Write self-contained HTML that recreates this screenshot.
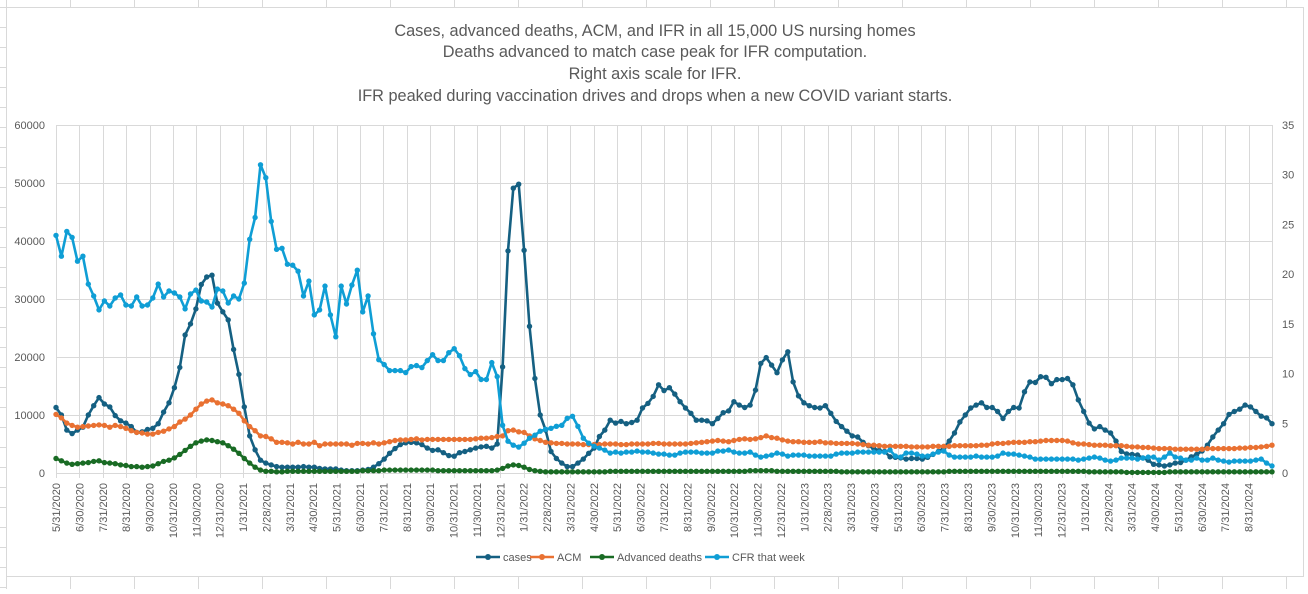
<!DOCTYPE html>
<html><head><meta charset="utf-8">
<style>
html,body{margin:0;padding:0;background:#fff;}
body{width:1308px;height:589px;overflow:hidden;position:relative;font-family:"Liberation Sans",Arial,sans-serif;}
svg text{font-family:"Liberation Sans",Arial,sans-serif;}
</style></head>
<body>
<svg id="chart" width="1308" height="589" viewBox="0 0 1308 589" xmlns="http://www.w3.org/2000/svg">
<g id="sheet" stroke="#d9d9d9" stroke-width="1"></g>
<rect x="6.5" y="7.5" width="1297" height="569" fill="#fff" stroke="#d9d9d9"/>
<g fill="#595959" font-size="16.3" text-anchor="middle">
<text x="655" y="36">Cases, advanced deaths, ACM, and IFR in all 15,000 US nursing homes</text>
<text x="655" y="57">Deaths advanced to match case peak for IFR computation.</text>
<text x="655" y="79">Right axis scale for IFR.</text>
<text x="655" y="101">IFR peaked during vaccination drives and drops when a new COVID variant starts.</text>
</g>
<g id="grid"></g>
<g id="axes"></g>
<g id="series"></g>
<g id="legend"></g>
</svg>
<script>
const cases=[11.3,10.0,7.4,6.8,7.4,7.9,10.0,11.6,13.0,11.9,11.4,9.9,9.0,8.6,8.0,7.0,7.1,7.5,7.7,8.5,10.5,12.1,14.7,18.2,23.8,25.7,28.3,32.5,33.8,34.1,29.3,27.8,26.4,21.3,17.0,11.4,6.4,4.0,2.2,1.7,1.4,1.1,1.0,1.0,1.0,1.0,1.1,1.0,1.0,0.8,0.7,0.7,0.7,0.5,0.4,0.4,0.4,0.5,0.6,1.0,1.6,2.4,3.4,4.2,4.9,5.2,5.3,5.2,4.9,4.3,3.9,4.0,3.5,3.0,2.9,3.5,
3.7,4.0,4.3,4.5,4.6,4.3,5.0,18.3,38.3,49.1,49.8,38.4,25.3,16.3,10.0,7.4,3.7,2.5,1.7,1.1,1.1,1.7,2.4,3.4,4.3,6.3,7.4,9.1,8.6,8.9,8.5,8.7,9.1,11.2,12.0,13.2,15.2,14.2,14.7,13.6,12.3,11.2,10.3,9.1,9.1,9.0,8.5,9.4,10.4,10.7,12.3,11.7,11.3,11.7,14.3,18.9,19.9,18.6,17.3,19.5,20.9,15.7,13.3,12.1,11.6,11.3,11.2,11.6,10.3,8.9,8.0,7.2,6.4,
6.2,5.3,4.7,4.2,3.9,3.7,2.8,2.7,2.6,2.4,2.5,2.5,2.4,2.7,3.2,3.7,4.3,5.5,6.9,8.8,10.0,11.2,11.7,12.1,11.3,11.3,10.6,9.4,10.6,11.3,11.2,14.0,15.7,15.6,16.6,16.5,15.4,16.1,16.1,16.3,15.2,12.6,10.6,8.6,7.6,8.0,7.4,6.9,5.5,3.7,3.3,3.2,3.1,2.6,2.2,1.5,1.4,1.2,1.4,1.7,1.8,2.2,2.8,3.2,3.8,4.8,6.2,7.4,8.5,10.1,10.6,11.0,11.7,11.4,10.6,9.8,9.5,8.5];
const acm=[10.1,9.5,8.6,8.2,7.9,8.0,8.1,8.2,8.3,8.2,7.9,8.2,8.0,7.7,7.3,7.0,6.9,6.7,6.7,7.0,7.2,7.6,8.0,8.8,9.3,10.0,11.0,11.9,12.4,12.6,12.1,11.9,11.6,11.0,10.3,9.0,8.0,7.3,6.4,6.3,5.9,5.3,5.3,5.2,5.0,5.3,5.0,5.0,5.3,4.7,5.0,5.0,5.0,5.0,5.0,4.8,5.1,5.1,5.0,5.2,5.0,5.2,5.4,5.6,5.7,5.7,5.8,5.9,5.7,5.8,5.8,5.8,5.8,5.8,5.8,5.8,
5.8,5.8,5.9,6.0,6.0,6.1,6.3,6.4,7.3,7.4,7.1,7.0,6.4,5.9,5.6,5.3,5.2,5.1,5.1,5.0,5.0,5.0,4.9,4.9,4.9,4.9,5.0,5.0,5.0,4.9,4.9,5.0,5.0,5.0,5.0,5.1,5.1,5.0,5.0,5.0,5.0,5.0,5.1,5.2,5.3,5.4,5.5,5.6,5.5,5.4,5.6,5.8,5.9,5.8,5.9,6.1,6.4,6.1,6.0,5.7,5.5,5.4,5.4,5.3,5.3,5.3,5.4,5.2,5.2,5.1,5.1,5.1,5.1,
5.0,4.9,4.8,4.8,4.7,4.6,4.6,4.6,4.6,4.6,4.5,4.5,4.5,4.5,4.6,4.6,4.6,4.6,4.7,4.7,4.7,4.7,4.7,4.8,4.8,5.0,5.1,5.1,5.2,5.3,5.3,5.3,5.4,5.4,5.5,5.6,5.6,5.6,5.6,5.5,5.2,5.0,5.0,4.9,4.8,4.8,4.8,4.7,4.7,4.7,4.6,4.5,4.5,4.4,4.4,4.3,4.2,4.2,4.2,4.1,4.1,4.1,4.1,4.1,4.1,4.2,4.2,4.2,4.2,4.2,4.2,4.3,4.3,4.4,4.4,4.5,4.6,4.8];
const advDeaths=[2.5,2.1,1.7,1.5,1.6,1.7,1.8,2.0,2.1,1.8,1.7,1.6,1.4,1.3,1.1,1.1,1.0,1.1,1.2,1.6,2.0,2.2,2.6,3.2,3.9,4.6,5.2,5.5,5.7,5.6,5.4,5.2,4.7,4.1,3.4,2.5,1.7,1.0,0.5,0.3,0.3,0.2,0.2,0.3,0.3,0.3,0.3,0.3,0.3,0.3,0.3,0.3,0.3,0.3,0.3,0.3,0.3,0.4,0.4,0.4,0.4,0.5,0.5,0.5,0.5,0.5,0.5,0.5,0.5,0.5,0.5,0.4,0.4,0.4,0.4,0.4,
0.4,0.4,0.4,0.4,0.4,0.4,0.5,0.8,1.2,1.4,1.3,1.0,0.6,0.4,0.3,0.2,0.2,0.2,0.2,0.2,0.2,0.2,0.2,0.2,0.2,0.2,0.2,0.3,0.3,0.3,0.3,0.3,0.3,0.3,0.3,0.3,0.3,0.3,0.3,0.3,0.3,0.3,0.3,0.3,0.3,0.3,0.3,0.3,0.3,0.3,0.3,0.3,0.3,0.4,0.4,0.4,0.4,0.4,0.3,0.3,0.3,0.3,0.3,0.3,0.3,0.3,0.3,0.3,0.3,0.3,0.2,0.2,0.2,
0.2,0.2,0.2,0.2,0.2,0.2,0.2,0.2,0.2,0.2,0.2,0.2,0.2,0.2,0.2,0.2,0.2,0.3,0.3,0.3,0.3,0.3,0.3,0.3,0.3,0.3,0.3,0.3,0.3,0.3,0.3,0.3,0.3,0.3,0.3,0.3,0.3,0.3,0.3,0.3,0.3,0.3,0.3,0.2,0.2,0.2,0.2,0.2,0.2,0.2,0.1,0.1,0.1,0.1,0.1,0.1,0.1,0.1,0.2,0.2,0.2,0.2,0.2,0.2,0.2,0.2,0.2,0.2,0.2,0.2,0.2,0.2,0.2,0.2,0.2,0.2,0.2,0.2];
const cfr=[23.9,21.8,24.3,23.7,21.3,21.8,19.0,17.8,16.4,17.3,16.8,17.6,17.9,16.9,16.8,17.7,16.8,16.9,17.6,19.0,17.7,18.3,18.1,17.7,16.5,18.0,18.4,17.3,17.2,16.7,18.5,18.3,17.1,17.8,17.5,19.1,23.5,25.7,31.0,29.7,25.3,22.5,22.6,21.0,20.9,20.3,17.8,19.3,15.9,16.4,18.8,15.9,13.7,18.8,17.0,18.9,20.4,16.2,17.8,14.0,11.4,10.9,10.3,10.3,10.3,10.1,10.7,10.8,10.6,11.3,11.9,11.3,11.3,12.1,12.5,11.8,
10.5,9.9,10.2,9.4,9.4,11.1,9.7,4.8,3.2,2.8,2.6,3.0,3.5,3.8,4.2,4.4,4.5,4.7,4.8,5.5,5.7,4.7,3.5,3.0,2.7,2.5,2.3,2.0,
2.1,2.0,2.1,2.1,2.2,2.1,2.1,2.0,1.9,1.9,1.8,1.8,2.0,2.1,2.1,2.1,2.0,2.0,2.0,2.2,2.2,2.3,2.1,2.0,2.0,2.1,1.8,1.6,1.7,1.8,2.0,1.9,1.7,1.8,1.8,1.8,1.7,1.7,1.7,1.7,1.7,1.9,2.0,2.0,2.0,
2.1,2.1,2.1,2.1,2.1,2.1,2.3,1.7,1.6,2.0,2.0,1.9,1.7,1.7,1.9,2.1,2.2,1.8,1.6,1.6,1.6,1.6,1.7,1.6,1.6,1.6,1.7,2.0,1.9,1.9,1.8,1.7,1.6,1.4,1.4,1.4,1.4,1.4,1.4,1.4,1.4,1.3,1.4,1.5,1.6,1.5,1.3,1.2,1.3,1.5,1.5,1.5,1.4,1.5,1.6,1.6,1.3,1.6,2.0,1.6,1.5,1.3,1.3,1.5,1.3,1.3,1.5,1.3,1.2,1.1,1.2,1.2,1.2,1.2,1.3,1.4,1.0,0.7];
const leftTicks=[0,10000,20000,30000,40000,50000,60000];
const rightTicks=[0,5,10,15,20,25,30,35];
const seriesNames=["cases","ACM","Advanced deaths","CFR that week"];
const monthLabels=[];
(function(){const ends=[31,28,31,30,31,30,31,31,30,31,30,31];for(let m=0;m<52;m++){const t=4+m;const y=2020+Math.floor(t/12);const mo=t%12;let d=ends[mo];if(mo===1&&y%4===0)d=29;monthLabels.push((mo+1)+"/"+d+"/"+y);}})();

const NS="http://www.w3.org/2000/svg";
const X0=56,X1=1272,Y0=473,YT=125;
const nW=226;
const xOf=i=>X0+(X1-X0)*i/nW;
const xMonth=m=>X0+(X1-X0)*m/52;
const yL=v=>Y0-(Y0-YT)*v/60000;
const yR=v=>Y0-(Y0-YT)*v/35;
function mk(tag,attrs,parent){const e=document.createElementNS(NS,tag);for(const k in attrs)e.setAttribute(k,attrs[k]);parent.appendChild(e);return e;}

const sheet=document.getElementById('sheet');
for(let y=7;y<589;y+=20){const l=mk('line',{x1:0,x2:6,y1:y+0.5,y2:y+0.5},sheet);}
for(let x=6;x<1308;x+=64){const l=mk('line',{x1:x+0.5,x2:x+0.5,y1:577,y2:589},sheet);
const l2=mk('line',{x1:x+0.5,x2:x+0.5,y1:0,y2:7},sheet);}

const grid=document.getElementById('grid');
leftTicks.forEach(v=>{const l=mk('line',{x1:X0,x2:X1,y1:yL(v)+0.5,y2:yL(v)+0.5,stroke:'#d9d9d9','stroke-width':1},grid);

});
for(let m=0;m<=52;m++){const x=Math.round(xMonth(m))+0.5;const l=mk('line',{x1:x,x2:x,y1:YT,y2:Y0+5,stroke:'#d9d9d9','stroke-width':1},grid);

}

const axes=document.getElementById('axes');
leftTicks.forEach(v=>{const t=mk('text',{x:45,y:yL(v)+4,'text-anchor':'end','font-size':11,fill:'#595959'},axes);t.textContent=v;

});
rightTicks.forEach(v=>{const t=mk('text',{x:1282,y:yR(v)+4,'text-anchor':'start','font-size':11,fill:'#595959'},axes);t.textContent=v;

});
monthLabels.forEach((s,m)=>{const x=xMonth(m)+4;const t=mk('text',{x:0,y:0,'text-anchor':'end','font-size':11,fill:'#595959',transform:`translate(${x},483) rotate(-90)`},axes);t.textContent=s;

});

const ser=document.getElementById('series');
const defs=[[cases,'#156082',v=>yL(v*1000),'cases-series'],[acm,'#E97132',v=>yL(v*1000),'acm-series'],[advDeaths,'#196B24',v=>yL(v*1000),'advanced-deaths-series'],[cfr,'#0F9ED5',yR,'cfr-series']];
defs.forEach(([arr,col,yf,name])=>{const g=mk('g',{},ser);


const pts=arr.map((v,i)=>xOf(i).toFixed(1)+','+yf(v).toFixed(1)).join(' ');
const pl=mk('polyline',{points:pts,fill:'none',stroke:col,'stroke-width':2.6,'stroke-linejoin':'round'},g);


arr.forEach((v,i)=>{const c=mk('circle',{cx:xOf(i).toFixed(1),cy:yf(v).toFixed(1),r:2.7,fill:col},g);

});});

const leg=document.getElementById('legend');
const legX=[476,530,590,705];const cols=['#156082','#E97132','#196B24','#0F9ED5'];
seriesNames.forEach((n,k)=>{const g=mk('g',{},leg);


mk('line',{x1:legX[k],x2:legX[k]+24,y1:557,y2:557,stroke:cols[k],'stroke-width':2.6},g);
mk('circle',{cx:legX[k]+12,cy:557,r:3,fill:cols[k]},g);
const t=mk('text',{x:legX[k]+27,y:561,'font-size':11,fill:'#595959'},g);t.textContent=n;});
</script>
</body></html>
